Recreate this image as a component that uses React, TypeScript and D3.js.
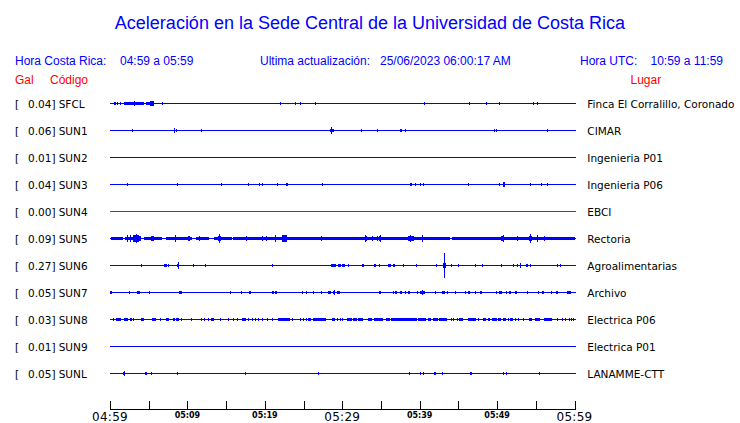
import React from "react";
import * as d3 from "d3";

// ---------- data ----------
const titleText = "Aceleración en la Sede Central de la Universidad de Costa Rica";
const crLabel = "Hora Costa Rica:";
const crRange = "04:59 a 05:59";
const updLabel = "Ultima actualización:";
const updValue = "25/06/2023 06:00:17 AM";
const utcLabel = "Hora UTC:";
const utcRange = "10:59 a 11:59";

const codes = ["SFCL", "SUN1", "SUN2", "SUN3", "SUN4", "SUN5", "SUN6", "SUN7", "SUN8", "SUN9", "SUNL"];
const peaks = [0.04, 0.06, 0.01, 0.04, 0.0, 0.09, 0.27, 0.05, 0.03, 0.01, 0.05];
const places = [
  "Finca El Corralillo, Coronado",
  "CIMAR",
  "Ingenieria P01",
  "Ingenieria P06",
  "EBCI",
  "Rectoria",
  "Agroalimentarias",
  "Archivo",
  "Electrica P06",
  "Electrica P01",
  "LANAMME-CTT",
];

const tickMinutes = [0, 5, 10, 15, 20, 25, 30, 35, 40, 45, 50, 55, 60];
const labelMinutes = [0, 10, 20, 30, 40, 50, 60];
const tickLabels = ["04:59", "05:09", "05:19", "05:29", "05:39", "05:49", "05:59"];

// events: [start minute, end minute, amplitude (Gal)]
const sfclEvents = [
  [0.52, 0.74, 0.028], [0.9, 0.9, 0.02], [1.34, 1.34, 0.02], [1.77, 4.36, 0.034],
  [3.1, 3.1, 0.045], [4.66, 5.14, 0.032], [5.13, 5.69, 0.058], [6.72, 6.72, 0.028],
  [22.0, 22.0, 0.015], [23.9, 23.9, 0.015], [24.5, 24.5, 0.02], [26.5, 26.5, 0.015],
  [40.6, 40.6, 0.015], [46.4, 46.4, 0.028], [48.6, 48.6, 0.015], [50.3, 50.3, 0.015],
  [54.6, 54.6, 0.028], [55.2, 55.2, 0.028],
];
const sun1Events = [
  [2.85, 2.85, 0.028], [8.28, 8.28, 0.05], [8.53, 8.53, 0.02], [11.77, 11.77, 0.028],
  [28.45, 28.97, 0.034], [28.6, 28.6, 0.06], [32.4, 32.4, 0.028], [34.5, 34.5, 0.028],
  [37.4, 37.4, 0.02], [37.6, 37.6, 0.028], [38.15, 38.15, 0.028], [49.66, 49.66, 0.03],
  [49.9, 49.9, 0.02], [56.4, 56.4, 0.03],
];
const sun2Events: number[][] = [];
const sun3Events = [
  [2.2, 2.2, 0.015], [8.66, 8.66, 0.02], [14.35, 14.35, 0.015], [17.85, 17.85, 0.02],
  [19.27, 19.27, 0.02], [19.6, 19.6, 0.02], [21.6, 21.6, 0.02], [22.7, 23.0, 0.028],
  [27.4, 27.4, 0.02], [38.75, 39.0, 0.028], [39.4, 39.4, 0.015], [40.1, 40.1, 0.015],
  [40.4, 40.4, 0.02], [46.3, 46.3, 0.02], [50.3, 50.3, 0.02], [50.8, 51.0, 0.04],
  [54.2, 54.2, 0.02], [55.7, 55.7, 0.015], [56.5, 56.5, 0.015],
];
const sun4Events: number[][] = [];
const sun5Events = [
  [0.18, 1.68, 0.035], [1.9, 2.97, 0.035], [2.97, 4.06, 0.05], [3.0, 3.8, 0.065], [3.41, 3.41, 0.09],
  [4.4, 6.72, 0.035], [5.35, 5.78, 0.05], [7.2, 10.5, 0.035], [11.17, 12.9, 0.035],
  [13.4, 15.7, 0.035], [14.1, 14.1, 0.09], [13.9, 14.3, 0.05], [15.9, 43.9, 0.035], [44.15, 60, 0.035],
  [2.2, 2.2, 0.06], [2.64, 2.64, 0.06], [8.45, 8.45, 0.06], [10.1, 10.4, 0.05],
  [11.47, 11.47, 0.055], [17.6, 17.6, 0.05], [19.6, 19.6, 0.055], [20.1, 20.1, 0.05],
  [21.3, 21.3, 0.075], [22.2, 22.8, 0.06], [27.25, 27.25, 0.055], [33.0, 33.0, 0.065],
  [32.9, 33.1, 0.05], [33.9, 33.9, 0.05], [34.45, 34.45, 0.05], [34.9, 34.9, 0.07],
  [34.7, 35.0, 0.05], [38.5, 39.3, 0.05], [38.8, 38.8, 0.07], [40.3, 40.3, 0.06],
  [50.7, 50.7, 0.065], [50.55, 50.85, 0.05], [52.55, 52.55, 0.05], [54.2, 54.2, 0.09],
  [54.1, 54.5, 0.055], [55.1, 55.1, 0.06], [56.1, 56.1, 0.05],
];
const sun6Events = [
  [4.06, 4.06, 0.03], [6.95, 7.33, 0.035], [7.5, 7.5, 0.02], [8.8, 8.8, 0.06], [8.7, 8.9, 0.035],
  [10.7, 10.7, 0.015], [12.3, 12.3, 0.028], [20.9, 20.9, 0.03], [28.5, 29.1, 0.035],
  [29.4, 29.8, 0.035], [30.0, 30.35, 0.035], [30.8, 30.8, 0.015], [32.5, 32.5, 0.028],
  [32.7, 32.7, 0.028], [34.1, 34.35, 0.03], [34.7, 34.7, 0.028], [35.95, 35.95, 0.015],
  [36.1, 36.4, 0.03], [36.6, 36.9, 0.03], [37.9, 37.9, 0.028], [39.5, 39.5, 0.015],
  [42.1, 42.1, 0.028], [43.0, 43.35, 0.04], [43.2, 43.2, 0.27], [44.1, 44.1, 0.03],
  [44.9, 44.9, 0.03], [47.1, 47.1, 0.028], [48.0, 48.15, 0.03], [50.5, 50.5, 0.015],
  [52.1, 52.1, 0.028], [52.55, 52.55, 0.028], [53.0, 53.0, 0.045], [53.7, 53.9, 0.03],
  [54.3, 54.3, 0.028], [57.8, 57.8, 0.028], [58.15, 58.15, 0.028],
];
const sun7Events = [
  [0.05, 0.3, 0.035], [2.46, 2.46, 0.02], [3.5, 3.9, 0.03], [5.05, 5.05, 0.02],
  [8.9, 9.27, 0.035], [15.5, 15.5, 0.015], [16.9, 16.9, 0.015], [17.9, 18.15, 0.03],
  [20.9, 21.1, 0.03], [21.3, 21.5, 0.03], [24.8, 24.8, 0.015], [25.35, 25.35, 0.02],
  [26.2, 26.2, 0.02], [27.2, 27.2, 0.015], [28.2, 28.55, 0.03], [28.8, 29.05, 0.035],
  [28.9, 28.9, 0.045], [29.35, 29.7, 0.03], [34.8, 35.0, 0.03], [36.5, 36.5, 0.015],
  [36.8, 37.0, 0.03], [37.4, 37.6, 0.03], [38.1, 38.1, 0.02], [38.5, 38.8, 0.03],
  [39.7, 39.7, 0.015], [40.0, 40.6, 0.035], [40.3, 40.3, 0.05], [42.0, 42.0, 0.02],
  [42.85, 43.3, 0.03], [43.5, 43.5, 0.02], [44.5, 44.5, 0.02], [45.8, 45.8, 0.02],
  [46.25, 46.5, 0.03], [47.1, 47.1, 0.015], [47.8, 48.0, 0.03], [49.8, 49.8, 0.015],
  [50.3, 50.75, 0.03], [51.2, 51.2, 0.02], [51.6, 51.8, 0.03], [52.25, 52.55, 0.03],
  [53.85, 53.85, 0.03], [55.3, 55.3, 0.03], [55.85, 56.1, 0.03], [56.9, 56.9, 0.015],
  [57.6, 57.85, 0.03], [59.0, 59.5, 0.03],
];
const sun8Events = [
  [0.39, 0.39, 0.02], [0.82, 1.47, 0.028], [1.77, 2.25, 0.028], [2.55, 2.77, 0.028],
  [2.97, 2.97, 0.02], [4.06, 4.49, 0.028], [5.48, 6.0, 0.028], [6.43, 6.43, 0.02],
  [7.29, 7.72, 0.028], [8.15, 8.37, 0.028], [8.58, 9.01, 0.028], [9.23, 9.23, 0.02],
  [10.44, 10.44, 0.02], [11.69, 11.69, 0.02], [12.08, 12.08, 0.02], [12.67, 12.67, 0.02],
  [13.1, 13.45, 0.028], [14.22, 14.22, 0.02], [15.26, 15.26, 0.02], [15.9, 15.9, 0.02],
  [16.42, 16.42, 0.02], [16.99, 17.51, 0.028], [17.85, 17.85, 0.02], [18.28, 18.28, 0.02],
  [18.71, 18.71, 0.02], [19.14, 19.14, 0.02], [19.57, 19.57, 0.02], [20.22, 20.22, 0.02],
  [20.87, 20.87, 0.02], [21.72, 23.24, 0.028], [23.53, 23.53, 0.02], [24.53, 24.53, 0.02],
  [24.92, 24.92, 0.02], [25.35, 25.35, 0.02], [25.6, 25.95, 0.028], [26.25, 27.98, 0.028],
  [28.63, 28.97, 0.028], [29.35, 29.35, 0.02], [29.7, 29.7, 0.02], [30.0, 30.0, 0.02],
  [30.57, 31.22, 0.028], [31.35, 31.87, 0.028], [32.07, 32.72, 0.028], [33.36, 33.88, 0.028],
  [34.14, 35.3, 0.028], [35.61, 36.17, 0.028], [36.26, 37.89, 0.028], [37.98, 39.7, 0.028],
  [39.83, 40.82, 0.028], [41.12, 41.56, 0.028], [41.7, 42.3, 0.028], [42.5, 43.5, 0.028],
  [44.02, 44.02, 0.02], [44.36, 44.36, 0.02], [44.79, 44.79, 0.02], [45.09, 45.65, 0.028],
  [46.3, 47.38, 0.028], [47.59, 47.59, 0.02], [48.23, 48.67, 0.028], [48.88, 49.1, 0.028],
  [49.32, 49.97, 0.028], [50.17, 50.61, 0.028], [50.82, 51.26, 0.028], [51.47, 51.47, 0.02],
  [51.69, 52.12, 0.028], [52.33, 52.33, 0.02], [52.76, 52.76, 0.02], [53.41, 53.41, 0.02],
  [54.06, 54.49, 0.028], [54.92, 55.57, 0.028], [56.0, 57.08, 0.028], [57.73, 57.73, 0.02],
  [58.37, 58.37, 0.02], [58.8, 58.8, 0.02], [59.23, 59.23, 0.02], [59.54, 59.54, 0.02],
  [59.87, 59.87, 0.02],
];
const sun9Events: number[][] = [];
const sunlEvents = [
  [1.7, 2.0, 0.03], [1.85, 1.85, 0.05], [4.5, 4.75, 0.025], [5.3, 5.3, 0.02],
  [8.66, 8.66, 0.01], [17.45, 17.45, 0.02], [26.9, 26.9, 0.01], [38.66, 38.66, 0.01],
  [40.1, 40.1, 0.02], [40.44, 40.44, 0.015], [41.9, 42.1, 0.025], [42.9, 42.9, 0.02],
  [46.5, 46.7, 0.02], [50.7, 50.7, 0.02], [51.2, 51.2, 0.02], [55.35, 55.35, 0.01],
];

const allEvents = [
  sfclEvents, sun1Events, sun2Events, sun3Events, sun4Events, sun5Events,
  sun6Events, sun7Events, sun8Events, sun9Events, sunlEvents,
];

// ---------- styles ----------
const W = 740;
const H = 423;
const BLUE = "#0000ff";
const RED = "#ff0000";
const sans = "'Liberation Sans', Arial, Helvetica, sans-serif";
const dejavu = "'DejaVu Sans', sans-serif";

export default function App() {
  const x = d3.scaleLinear().domain([0, 60]).range([110, 574.5]);
  const y = d3.scaleLinear().domain([0, codes.length - 1]).range([103.5, 373.5]);
  const amp = d3.scaleLinear().domain([0, 0.27]).range([0, 11.5]);
  const axisY = 409.5;

  return (
    <svg
      width={W}
      height={H}
      style={{ position: "absolute", left: 0, top: 0, background: "#fff" }}
    >
      <rect x={0} y={0} width={W} height={H} fill="#fff" />
      <text x={W / 2} y={29} textAnchor="middle" fontFamily={sans} fontSize={18} fill={BLUE}>
        {titleText}
      </text>
      <g fontFamily={sans} fontSize={12} fill={BLUE}>
        <text x={15} y={64.5}>{crLabel}</text>
        <text x={120} y={64.5}>{crRange}</text>
        <text x={260} y={64.5}>{updLabel}</text>
        <text x={380} y={64.5}>{updValue}</text>
        <text x={580} y={64.5}>{utcLabel}</text>
        <text x={650.5} y={64.5}>{utcRange}</text>
      </g>
      <g fontFamily={sans} fontSize={12} fill={RED}>
        <text x={15} y={84}>Gal</text>
        <text x={50} y={84}>Código</text>
        <text x={630.5} y={84}>Lugar</text>
      </g>

      {codes.map((code, i) => {
        const cy = y(i);
        const color = peaks[i] === 0 ? RED : BLUE;
        const base = Math.floor(cy);
        return (
          <g key={code}>
            <g fontFamily={dejavu} fontSize={10.5} fill="#000">
              <text x={15} y={base + 4.5}>[</text>
              <text x={55.5} y={base + 4.5} textAnchor="end">{peaks[i].toFixed(2) + "]"}</text>
              <text x={58.7} y={base + 4.5}>{code}</text>
              <text x={587.3} y={base + 4.5}>{places[i]}</text>
            </g>
            <g shapeRendering="crispEdges" fill={color} stroke="none">
              <rect x={x(0)} y={base} width={x(60) - x(0) + 1} height={1} />
              {allEvents[i].map((ev, j) => {
                const [s, e, a] = ev;
                const h = Math.max(1, Math.round(amp(a)));
                const x0 = Math.round(x(s));
                const w = Math.max(1, Math.round(x(e) - x(s)));
                return (
                  <rect key={j} x={x0} y={base - h} width={w} height={2 * h + 1} />
                );
              })}
            </g>
          </g>
        );
      })}

      <g shapeRendering="crispEdges" stroke="#000" strokeWidth={1}>
        <line x1={x(0)} x2={x(60) + 1} y1={axisY} y2={axisY} />
        {tickMinutes.map((m) => (
          <line key={m} x1={Math.round(x(m)) + 0.5} x2={Math.round(x(m)) + 0.5} y1={401} y2={axisY} />
        ))}
      </g>
      {labelMinutes.map((m, i) => {
        const big = i % 3 === 0;
        return (
          <text
            key={m}
            x={x(m)}
            y={big ? 421 : 418}
            textAnchor="middle"
            fontFamily={dejavu}
            fontSize={big ? 12 : 8}
            fontWeight={big ? "normal" : "bold"}
            letterSpacing={big ? 0.3 : 0}
            fill="#000"
          >
            {tickLabels[i]}
          </text>
        );
      })}
    </svg>
  );
}
